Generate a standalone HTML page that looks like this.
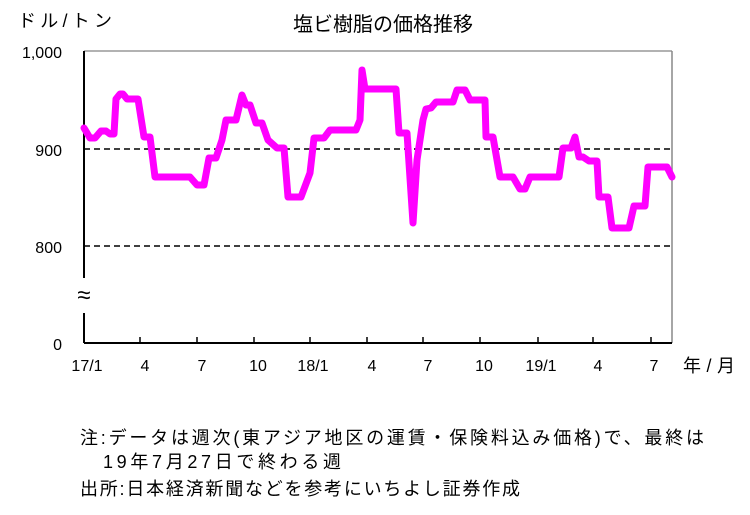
<!DOCTYPE html>
<html><head><meta charset="utf-8"><style>
body{margin:0;background:#fff;}
svg text{font-family:"Liberation Sans","Noto Sans CJK JP",sans-serif;fill:#000;}
</style></head><body>
<svg width="750" height="510" viewBox="0 0 750 510" xmlns="http://www.w3.org/2000/svg">
<rect width="750" height="510" fill="#fff"/>
<text x="383" y="31" font-size="20" text-anchor="middle">塩ビ樹脂の価格推移</text>
<text x="18" y="27" font-size="18" textLength="94">ドル/トン</text>
<line x1="84" y1="51" x2="672" y2="51" stroke="#999" stroke-width="1.5"/>
<line x1="672" y1="51" x2="672" y2="343" stroke="#888" stroke-width="1.5"/>
<line x1="84" y1="149" x2="672" y2="149" stroke="#000" stroke-width="1.5" stroke-dasharray="6,4"/>
<line x1="84" y1="246" x2="672" y2="246" stroke="#000" stroke-width="1.5" stroke-dasharray="6,4"/>
<line x1="84" y1="51" x2="84" y2="278" stroke="#000" stroke-width="2"/>
<line x1="84" y1="313" x2="84" y2="343" stroke="#000" stroke-width="2"/>
<line x1="84" y1="343" x2="672" y2="343" stroke="#000" stroke-width="2"/>
<text x="84" y="303" font-size="24" text-anchor="middle">≈</text>
<g stroke="#000" stroke-width="1.5">
<line x1="140" y1="337" x2="140" y2="343"/><line x1="197" y1="337" x2="197" y2="343"/><line x1="254" y1="337" x2="254" y2="343"/><line x1="310" y1="337" x2="310" y2="343"/><line x1="367" y1="337" x2="367" y2="343"/><line x1="423" y1="337" x2="423" y2="343"/><line x1="480" y1="337" x2="480" y2="343"/><line x1="538" y1="337" x2="538" y2="343"/><line x1="593" y1="337" x2="593" y2="343"/><line x1="651" y1="337" x2="651" y2="343"/>
</g>
<g font-size="16" text-anchor="end">
<text x="62" y="58">1,000</text><text x="62" y="156">900</text><text x="62" y="253">800</text><text x="62" y="350">0</text>
</g>
<g font-size="16" text-anchor="middle">
<text x="87" y="371">17/1</text><text x="145" y="371">4</text><text x="202" y="371">7</text><text x="258" y="371">10</text><text x="313" y="371">18/1</text><text x="372" y="371">4</text><text x="428" y="371">7</text><text x="484" y="371">10</text><text x="541" y="371">19/1</text><text x="598" y="371">4</text><text x="654" y="371">7</text>
</g>
<text x="683" y="372" font-size="18" textLength="52">年/月</text>
<polyline fill="none" stroke="#ff00ff" stroke-width="7" stroke-linejoin="round" stroke-linecap="round" points="84,128 90,138 95,138 101,131 106,131 110,134 114,134 116,99 120,94 123,94 127,99 138,99 144,137 150,137 155,177 190,177 197,185 204,185 209,158 216,158 222,140 226,120 236,120 242,95 246,105 250,105 256,123 262,123 268,140 277,148 284,148 288,197 301,197 310,173 314,138 324,138 330,130 356,130 360,120 362,70 365,89 396,89 399,133 407,133 413,223 417,160 423,120 426,109 431,108 436,102 453,102 457,90 465,90 470,100 485,100 486,137 493,137 500,177 513,177 520,189 525,189 530,177 559,177 563,148 571,148 575,137 579,157 583,157 589,161 597,161 599,197 608,197 612,228 629,228 634,206 645,206 648,167 667,167 672,177"/>
<g font-size="18">
<text x="80" y="444" textLength="624">注:データは週次(東アジア地区の運賃・保険料込み価格)で、最終は</text>
<text x="103" y="468" textLength="238">19年7月27日で終わる週</text>
<text x="80" y="495" textLength="440">出所:日本経済新聞などを参考にいちよし証券作成</text>
</g>
</svg>
</body></html>
